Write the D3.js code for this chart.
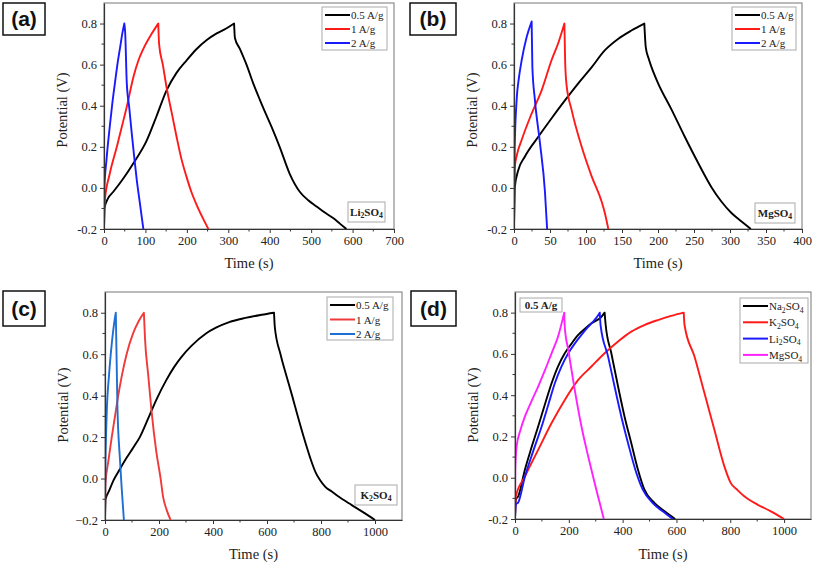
<!DOCTYPE html>
<html><head><meta charset="utf-8">
<script src="https://cdn.jsdelivr.net/npm/d3@7"></script>
<style>
body{margin:0;background:#fff;}
svg{display:block;}
</style></head>
<body>
<svg id="chart" width="813" height="563"></svg>
<script>
// ---------- DATA (time s, potential V) ----------
// (a) Li2SO4
const aLi_05 = [[0,-0.2],[1,-0.1],[10,-0.05],[22,-0.02],[47,0.047],[71,0.12],[103,0.23],[127,0.35],[151,0.475],[175,0.56],[199,0.62],[223,0.675],[248,0.72],[272,0.752],[296,0.777],[314,0.80],[316,0.73],[328,0.677],[344,0.6],[360,0.51],[376,0.43],[392,0.354],[408,0.28],[424,0.2],[448,0.07],[473,-0.02],[493,-0.06],[513,-0.09],[533,-0.12],[553,-0.147],[570,-0.175],[585,-0.2]];
const aLi_1 = [[0,-0.2],[2,-0.06],[14,0.07],[31,0.2],[47,0.33],[55,0.395],[71,0.54],[83,0.62],[95,0.677],[115,0.75],[131,0.80],[133,0.70],[142,0.6],[151,0.49],[163,0.37],[175,0.25],[187,0.14],[199,0.055],[211,-0.02],[223,-0.08],[238,-0.145],[252,-0.2]];
const aLi_2 = [[0,-0.2],[1,0.0],[6,0.136],[14,0.30],[20,0.41],[27,0.52],[33,0.61],[39,0.685],[44,0.75],[49,0.80],[51,0.76],[55,0.51],[61,0.39],[67,0.265],[73,0.15],[79,0.04],[87,-0.08],[95,-0.2]];
// (b) MgSO4
const bMg_05 = [[0,-0.2],[1,0.0],[6,0.087],[15,0.152],[34,0.25],[52,0.338],[71,0.427],[89,0.508],[108,0.588],[126,0.669],[145,0.726],[163,0.766],[181,0.80],[183,0.685],[187,0.63],[191,0.588],[200,0.51],[219,0.38],[237,0.25],[256,0.12],[274,0.005],[288,-0.066],[302,-0.122],[316,-0.163],[329,-0.2]];
const bMg_1 = [[0,-0.2],[1,0.1],[4,0.16],[10.6,0.233],[24.5,0.362],[38.4,0.475],[52,0.62],[62,0.71],[70,0.80],[71,0.62],[73,0.50],[80,0.38],[94,0.2],[108,0.055],[122,-0.07],[126,-0.12],[131,-0.2]];
const bMg_2 = [[0,-0.2],[1,0.2],[3.7,0.43],[7,0.54],[10.6,0.62],[17.6,0.734],[24.5,0.81],[25.5,0.59],[29,0.43],[36,0.22],[43,-0.02],[46,-0.2]];
// (c) K2SO4
const cK_05 = [[0,-0.2],[2,-0.1],[15,-0.06],[31,-0.01],[55,0.045],[80,0.1],[105,0.15],[129,0.2],[160,0.29],[190,0.38],[227,0.475],[257,0.54],[282,0.585],[320,0.64],[374,0.7],[411,0.728],[460,0.755],[520,0.775],[580,0.79],[626,0.80],[629,0.73],[650,0.6],[671,0.5],[693,0.4],[714,0.3],[736,0.2],[760,0.1],[780,0.03],[795,-0.005],[816,-0.04],[840,-0.063],[865,-0.087],[914,-0.128],[963,-0.168],[1000,-0.2]];
const cK_1 = [[0,-0.2],[2,-0.02],[12,0.08],[25,0.2],[37,0.3],[49,0.4],[63,0.5],[80,0.6],[104,0.7],[125,0.76],[144,0.80],[148,0.68],[160,0.5],[172,0.33],[190,0.13],[206,0.0],[215,-0.087],[228,-0.15],[243,-0.2]];
const cK_2 = [[0,-0.2],[1,0.0],[6,0.3],[15,0.5],[25,0.65],[35,0.76],[40,0.80],[46,0.35],[55,0.1],[62,-0.05],[70,-0.2]];
// (d) 0.5 A/g, four electrolytes
const dNa = [[0,-0.2],[3,-0.106],[12,-0.09],[37,0.04],[61,0.145],[86,0.248],[111,0.355],[136,0.458],[160,0.54],[185,0.603],[210,0.65],[235,0.692],[260,0.722],[284,0.748],[321,0.78],[333,0.80],[337,0.74],[358,0.603],[383,0.442],[407,0.297],[432,0.168],[457,0.039],[481,-0.058],[519,-0.123],[556,-0.163],[595,-0.2]];
const dK = [[0,-0.2],[3,-0.09],[37,0.006],[86,0.135],[136,0.265],[185,0.377],[235,0.474],[284,0.539],[333,0.603],[383,0.66],[432,0.708],[481,0.74],[531,0.764],[580,0.784],[627,0.80],[630,0.74],[667,0.587],[704,0.41],[741,0.232],[778,0.055],[802,-0.026],[827,-0.06],[852,-0.09],[901,-0.13],[951,-0.163],[1000,-0.2]];
const dLi = [[0,-0.2],[3,-0.13],[12,-0.12],[37,0.006],[68,0.13],[99,0.248],[124,0.355],[148,0.458],[173,0.54],[198,0.603],[222,0.65],[247,0.692],[270,0.728],[290,0.756],[305,0.78],[315,0.80],[318,0.74],[346,0.587],[370,0.442],[395,0.297],[420,0.168],[451,0.023],[475,-0.058],[512,-0.123],[549,-0.163],[586,-0.2]];
const dMg = [[0,-0.2],[1,0.04],[6,0.152],[20,0.23],[37,0.297],[61,0.37],[86,0.442],[111,0.52],[136,0.603],[160,0.684],[183,0.80],[185,0.73],[198,0.619],[222,0.426],[247,0.248],[272,0.103],[296,-0.026],[315,-0.123],[330,-0.2]];

// ---------- labels ----------
const legendRates = ["0.5 A/g","1 A/g","2 A/g"];
const legendSalts = [["Na","2","SO","4"],["K","2","SO","4"],["Li","2","SO","4"],["MgSO","4"]];
const xTitle = "Time (s)";
const yTitle = "Potential (V)";
const yTicks = [-0.2,0.0,0.2,0.4,0.6,0.8];

const SERIF = "'Liberation Serif', 'Times New Roman', serif";
const SANS = "'Liberation Sans', Arial, sans-serif";

// ---------- panels ----------
const panels = [
  {tag:"(a)", tagBox:[3,3,42,32], L:104,R:394,T:3,B:229, xMax:700, xTicks:d3.range(0,701,100), xMinor:d3.range(50,700,100), yMid:110, xTitleY:268,
   minus:"-", series:[{d:aLi_05,c:"#000"},{d:aLi_1,c:"#ff1a1a"},{d:aLi_2,c:"#1a1aff"}],
   legend:{x:322,y:7,w:65,h:43,dy:14,lines:legendRates.map(s=>[s]),colors:["#000","#ff1a1a","#1a1aff"]},
   saltBox:{x:348,y:202,w:37,h:20,parts:["Li","2","SO","4"]}},
  {tag:"(b)", tagBox:[410,3,46,32], L:514,R:802,T:3,B:229, xMax:400, xTicks:d3.range(0,401,50), xMinor:d3.range(25,400,50), yMid:110, xTitleY:268,
   minus:"-", series:[{d:bMg_05,c:"#000"},{d:bMg_1,c:"#ff1a1a"},{d:bMg_2,c:"#1a1aff"}],
   legend:{x:732,y:7,w:64,h:43,dy:14,lines:legendRates.map(s=>[s]),colors:["#000","#ff1a1a","#1a1aff"]},
   saltBox:{x:755,y:203,w:40,h:20,parts:["MgSO","4"]}},
  {tag:"(c)", tagBox:[3,291,42,35], L:105,R:402,T:292,B:520, xMax:1100, xTicks:d3.range(0,1001,200), xMinor:d3.range(100,1100,200), yMid:405, xTitleY:559,
   minus:"\u2212", series:[{d:cK_05,c:"#000"},{d:cK_1,c:"#f03a3a"},{d:cK_2,c:"#1e6fd2"}],
   legend:{x:327,y:297,w:66,h:43,dy:14.5,lines:legendRates.map(s=>[s]),colors:["#000","#f03a3a","#1e6fd2"]},
   saltBox:{x:355,y:485,w:42,h:20,parts:["K","2","SO","4"]}},
  {tag:"(d)", tagBox:[411,291,45,35], L:515,R:811,T:292,B:519, xMax:1100, xTicks:d3.range(0,1001,200), xMinor:d3.range(100,1100,200), yMid:405, xTitleY:559,
   minus:"-", series:[{d:dNa,c:"#000"},{d:dK,c:"#ff1a1a"},{d:dLi,c:"#1a1aff"},{d:dMg,c:"#ff22ff"}],
   legend:{x:740,y:298,w:68,h:65,dy:16.3,lines:legendSalts,colors:["#000","#ff1a1a","#1a1aff","#ff22ff"]},
   rateBox:{x:520,y:298,w:42,h:14,text:"0.5 A/g"}}
];

const svg = d3.select("#chart");

function subText(sel, parts, x, y, size, weight){
  const t = sel.append("text").attr("x",x).attr("y",y).style("font-family",SERIF)
    .style("font-size",size+"px").style("font-weight",weight||"normal").style("fill","#222");
  parts.forEach((p,i)=>{
    const isSub = (i%2===1);
    const ts = t.append("tspan").text(p);
    if(isSub){ ts.style("font-size",(size*0.7)+"px").attr("dy",size*0.25); }
    else if(i>0){ ts.attr("dy",-size*0.25); }
  });
  return t;
}

panels.forEach((p,pi)=>{
  const g = svg.append("g");
  const x = d3.scaleLinear().domain([0,p.xMax]).range([p.L,p.R]);
  const y = d3.scaleLinear().domain([-0.2,0.9]).range([p.B,p.T]);

  // panel tag
  g.append("rect").attr("x",p.tagBox[0]).attr("y",p.tagBox[1]).attr("width",p.tagBox[2]).attr("height",p.tagBox[3])
    .attr("fill","#fff").attr("stroke","#111").attr("stroke-width",1.5);
  g.append("text").attr("x",p.tagBox[0]+p.tagBox[2]/2).attr("y",p.tagBox[1]+p.tagBox[3]/2+7)
    .attr("text-anchor","middle").style("font-family",SANS)
    .style("font-weight","bold").style("font-size","21px").style("fill","#111").text(p.tag);

  // clip
  const cid = "clip"+pi;
  svg.append("defs").append("clipPath").attr("id",cid).append("rect")
    .attr("x",p.L).attr("y",p.T-2).attr("width",p.R-p.L).attr("height",p.B-p.T+2);

  // frame
  g.append("rect").attr("x",p.L).attr("y",p.T).attr("width",p.R-p.L).attr("height",p.B-p.T)
    .attr("fill","none").attr("stroke","#777").attr("stroke-width",1);

  // curves: charge and discharge branches smoothed separately, sharp peak kept
  const line = d3.line().x(d=>x(d[0])).y(d=>y(d[1])).curve(d3.curveMonotoneX);
  p.series.forEach(s=>{
    const pk = d3.maxIndex(s.d, d=>d[1]);
    const charge = s.d.slice(0,pk+1), dis = s.d.slice(pk);
    const path = line(charge) + line(dis).replace(/^M/,"L");
    g.append("path").attr("clip-path",`url(#${cid})`)
      .attr("d",path).attr("fill","none").attr("stroke",s.c).attr("stroke-width",1.9).attr("stroke-linejoin","round");
  });

  // axes
  const fmt = v => d3.format(".1f")(v).replace("\u2212",p.minus).replace("-",p.minus);
  const xAxis = d3.axisBottom(x).tickValues(p.xTicks).tickSize(4).tickSizeOuter(0).tickPadding(3).tickFormat(d3.format("d"));
  const yAxis = d3.axisLeft(y).tickValues(yTicks).tickSize(4).tickSizeOuter(0).tickPadding(3).tickFormat(fmt);
  const gx = g.append("g").attr("transform",`translate(0,${p.B})`).call(xAxis);
  const gy = g.append("g").attr("transform",`translate(${p.L},0)`).call(yAxis);
  [gx,gy].forEach(a=>{
    a.select(".domain").attr("stroke","#333").attr("stroke-width",1.2);
    a.selectAll(".tick line").attr("stroke","#333");
    a.selectAll(".tick text").style("font-family",SERIF).style("font-size","12.5px").style("fill","#222");
  });
  // minor ticks
  g.append("g").selectAll("line").data(p.xMinor).join("line")
    .attr("x1",d=>x(d)).attr("x2",d=>x(d)).attr("y1",p.B).attr("y2",p.B+2.5).attr("stroke","#333");
  g.append("g").selectAll("line").data([-0.1,0.1,0.3,0.5,0.7]).join("line")
    .attr("y1",d=>y(d)).attr("y2",d=>y(d)).attr("x1",p.L).attr("x2",p.L-2.5).attr("stroke","#333");

  // titles
  g.append("text").attr("x",(p.L+p.R)/2).attr("y",p.xTitleY).attr("text-anchor","middle")
    .style("font-family",SERIF).style("font-size","14.5px").style("fill","#222").text(xTitle);
  g.append("text").attr("transform",`translate(${p.L-37},${p.yMid}) rotate(-90)`).attr("text-anchor","middle")
    .style("font-family",SERIF).style("font-size","14.5px").style("fill","#222").text(yTitle);

  // legend
  const lg = p.legend;
  g.append("rect").attr("x",lg.x).attr("y",lg.y).attr("width",lg.w).attr("height",lg.h)
    .attr("fill","#fff").attr("stroke","#aaa").attr("stroke-width",1);
  lg.lines.forEach((parts,i)=>{
    const yy = lg.y+8+i*lg.dy;
    g.append("line").attr("x1",lg.x+3).attr("x2",lg.x+28).attr("y1",yy).attr("y2",yy)
      .attr("stroke",lg.colors[i]).attr("stroke-width",2);
    subText(g, parts, lg.x+29, yy+4, 11, "normal");
  });

  if(p.saltBox){
    const sb=p.saltBox;
    g.append("rect").attr("x",sb.x).attr("y",sb.y).attr("width",sb.w).attr("height",sb.h)
      .attr("fill","#fff").attr("stroke","#aaa");
    const t = subText(g, sb.parts, sb.x+sb.w/2, sb.y+sb.h/2+3.5, 11, "bold");
    t.attr("text-anchor","middle");
  }
  if(p.rateBox){
    const rb=p.rateBox;
    g.append("rect").attr("x",rb.x).attr("y",rb.y).attr("width",rb.w).attr("height",rb.h)
      .attr("fill","#fff").attr("stroke","#aaa");
    g.append("text").attr("x",rb.x+rb.w/2).attr("y",rb.y+rb.h/2+4).attr("text-anchor","middle")
      .style("font-family",SERIF).style("font-size","11px").style("font-weight","bold").style("fill","#222").text(rb.text);
  }
});
</script>
</body></html>
